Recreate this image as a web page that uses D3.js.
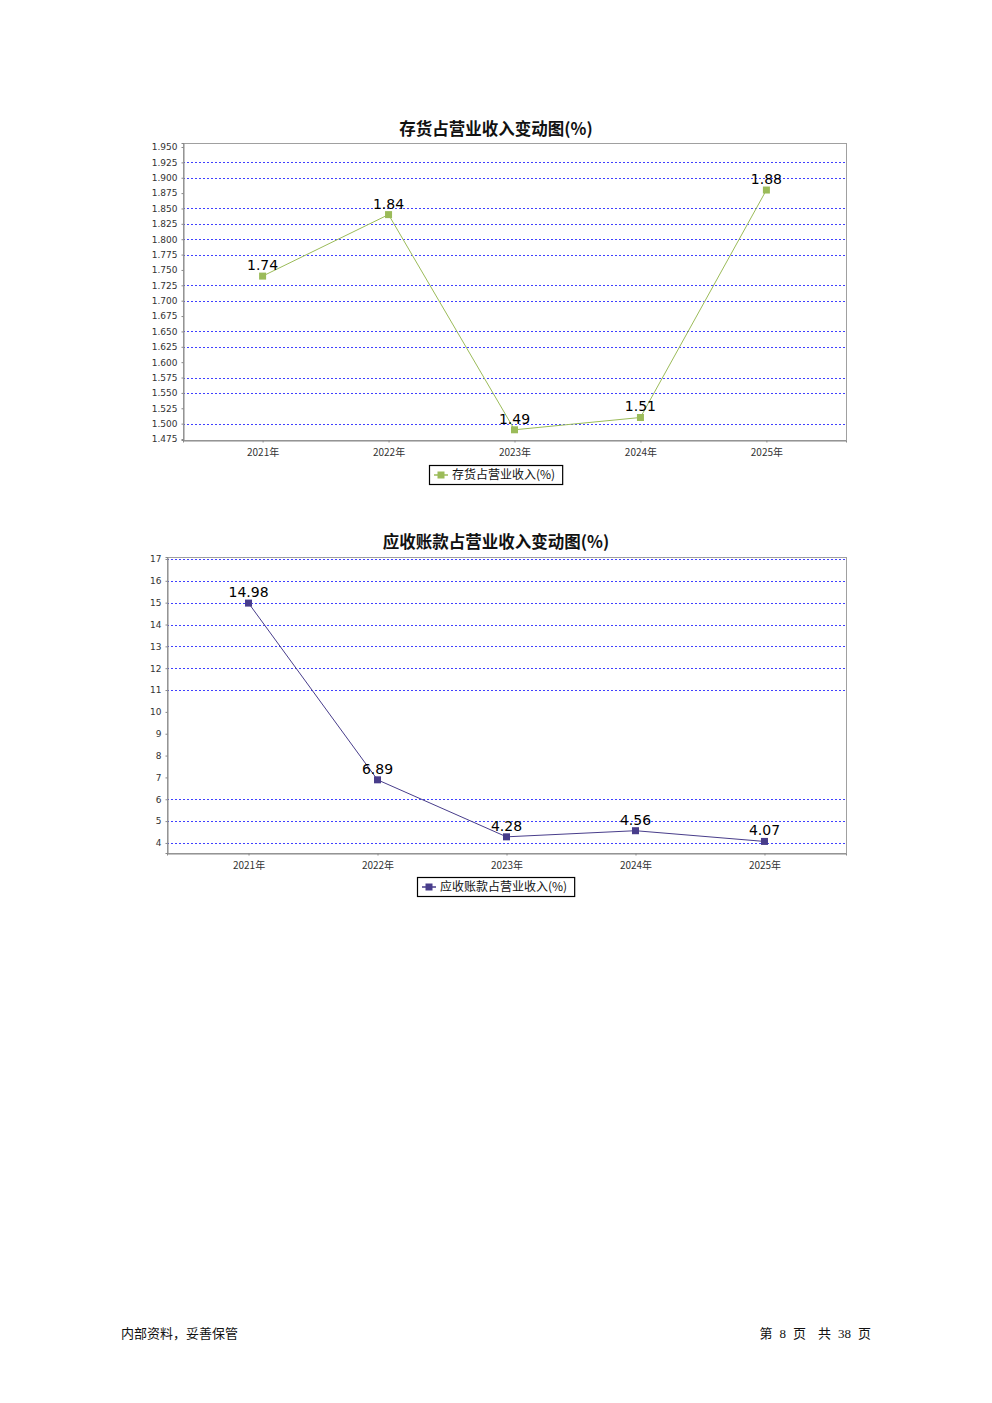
<!DOCTYPE html>
<html>
<head>
<meta charset="utf-8">
<script src="https://cdn.jsdelivr.net/npm/d3@7"></script>
<style>
  body { margin: 0; background: #fff; }
  svg { display: block; }
</style>
</head>
<body>
<svg id="page" width="992" height="1403"></svg>
<script>
// ---------- data ----------
const categories = ["2021年", "2022年", "2023年", "2024年", "2025年"];

const inventoryTitle = "存货占营业收入变动图(%)";
const inventorySeriesName = "存货占营业收入(%)";
const inventoryValues = [1.74, 1.84, 1.49, 1.51, 1.88];
const inventoryTicks = [1.475, 1.500, 1.525, 1.550, 1.575, 1.600, 1.625, 1.650, 1.675, 1.700,
                        1.725, 1.750, 1.775, 1.800, 1.825, 1.850, 1.875, 1.900, 1.925, 1.950];
const inventoryGrid = [1.500, 1.550, 1.575, 1.625, 1.650, 1.700, 1.725, 1.775, 1.800, 1.825, 1.850, 1.900, 1.925];

const receivableTitle = "应收账款占营业收入变动图(%)";
const receivableSeriesName = "应收账款占营业收入(%)";
const receivableValues = [14.98, 6.89, 4.28, 4.56, 4.07];
const receivableTicks = [4, 5, 6, 7, 8, 9, 10, 11, 12, 13, 14, 15, 16, 17];
const receivableGrid = [4, 5, 6, 11, 12, 13, 14, 15, 16, 17];

const footerLeft = "内部资料，妥善保管";
const footerRight = ["第", "8", "页", "共", "38", "页"];

// ---------- drawing ----------
const svg = d3.select("#page");
const CJK = "'Noto Sans CJK SC', 'DejaVu Sans', sans-serif";
const SANS = "'DejaVu Sans', 'Noto Sans', sans-serif";

function drawChart(cfg) {
  const g = svg.append("g");
  const { left, right, top, bottom } = cfg.plot;

  // title
  g.append("text")
    .attr("x", 496).attr("y", cfg.titleY)
    .attr("text-anchor", "middle")
    .style("font-family", CJK).style("font-weight", "bold").style("font-size", "16.5px")
    .attr("fill", "#111")
    .text(cfg.title);

  const x = d3.scalePoint().domain(categories).range([left, right]).padding(0.632);
  const y = d3.scaleLinear().domain(cfg.yDomain).range([bottom, top]);

  // gridlines
  g.append("g").selectAll("line").data(cfg.grid).join("line")
    .attr("x1", left).attr("x2", right)
    .attr("y1", d => Math.round(y(d)) + 0.5).attr("y2", d => Math.round(y(d)) + 0.5)
    .attr("stroke", "#2a2aff").attr("stroke-width", 0.9)
    .attr("stroke-dasharray", "2,2");

  // plot outline
  g.append("rect")
    .attr("x", left + 0.5).attr("y", top + 0.5)
    .attr("width", right - left).attr("height", bottom - top)
    .attr("fill", "none").attr("stroke", "#a0a0a0").attr("stroke-width", 1);

  // y axis
  const yAxis = d3.axisLeft(y).tickValues(cfg.ticks).tickFormat(cfg.tickFormat)
    .tickSize(2).tickPadding(4);
  const ya = g.append("g").attr("transform", `translate(${left + 0.5},0)`).call(yAxis);
  ya.select(".domain").attr("stroke", "#888");
  ya.selectAll(".tick line").attr("stroke", "#888");
  ya.selectAll("text").style("font-family", SANS).style("font-size", "9px").attr("fill", "#333");

  // x axis
  const xAxis = d3.axisBottom(x).tickSize(2).tickPadding(6);
  const xa = g.append("g").attr("transform", `translate(0,${bottom + 0.5})`).call(xAxis);
  xa.select(".domain").attr("stroke", "#888");
  xa.selectAll(".tick line").attr("stroke", "#888");
  xa.selectAll("text").style("font-family", CJK).style("font-size", "10px").attr("fill", "#333");

  // line
  const line = d3.line().x((d, i) => x(categories[i])).y(d => y(d));
  g.append("path").datum(cfg.values)
    .attr("d", line).attr("fill", "none")
    .attr("stroke", cfg.color).attr("stroke-width", 1);

  // markers
  g.append("g").selectAll("rect").data(cfg.values).join("rect")
    .attr("x", (d, i) => x(categories[i]) - 3.5)
    .attr("y", d => y(d) - 3.5)
    .attr("width", 7).attr("height", 7)
    .attr("fill", cfg.color);

  // labels
  g.append("g").selectAll("text").data(cfg.values).join("text")
    .attr("x", (d, i) => x(categories[i]))
    .attr("y", d => y(d) - 6)
    .attr("text-anchor", "middle")
    .style("font-family", SANS).style("font-size", "14px")
    .attr("fill", "#000")
    .text(d => d3.format(".2f")(d));

  // legend
  const lg = g.append("g");
  const txt = lg.append("text")
    .attr("y", cfg.legendY + 14)
    .style("font-family", CJK).style("font-size", "12px").attr("fill", "#111")
    .text(cfg.seriesName);
  const tw = txt.node().getComputedTextLength();
  const boxW = tw + 30;
  const bx = Math.round(496 - boxW / 2);
  txt.attr("x", bx + 23);
  lg.insert("rect", "text")
    .attr("x", bx + 0.5).attr("y", cfg.legendY + 0.5)
    .attr("width", boxW).attr("height", 19)
    .attr("fill", "#fff").attr("stroke", "#000").attr("stroke-width", 1.2);
  lg.append("line")
    .attr("x1", bx + 5).attr("x2", bx + 19)
    .attr("y1", cfg.legendY + 10).attr("y2", cfg.legendY + 10)
    .attr("stroke", cfg.color).attr("stroke-width", 1.5);
  lg.append("rect")
    .attr("x", bx + 8.5).attr("y", cfg.legendY + 6.5)
    .attr("width", 7).attr("height", 7).attr("fill", cfg.color);
}

drawChart({
  title: inventoryTitle, titleY: 135,
  seriesName: inventorySeriesName,
  values: inventoryValues, ticks: inventoryTicks, grid: inventoryGrid,
  tickFormat: d3.format(".3f"),
  yDomain: [1.4734, 1.9565],
  plot: { left: 183, right: 846, top: 143, bottom: 440 },
  color: "#9bbb59",
  legendY: 465
});

drawChart({
  title: receivableTitle, titleY: 548,
  seriesName: receivableSeriesName,
  values: receivableValues, ticks: receivableTicks, grid: receivableGrid,
  tickFormat: d3.format("d"),
  yDomain: [3.54, 17.09],
  plot: { left: 167, right: 846, top: 557, bottom: 853 },
  color: "#483d8b",
  legendY: 877
});

// footer
svg.append("text")
  .attr("x", 121).attr("y", 1338)
  .style("font-family", CJK).style("font-size", "13px").attr("fill", "#111")
  .text(footerLeft);

const fr = svg.append("text")
  .attr("x", 871).attr("y", 1338).attr("text-anchor", "end")
  .style("font-size", "13px").attr("fill", "#111");
const gaps = [0, 7, 7, 12, 7, 7];
footerRight.forEach((t, i) => {
  const isNum = /\d/.test(t);
  fr.append("tspan")
    .attr("dx", gaps[i])
    .style("font-family", isNum ? "'Liberation Serif', serif" : CJK)
    .text(t);
});
</script>
</body>
</html>
